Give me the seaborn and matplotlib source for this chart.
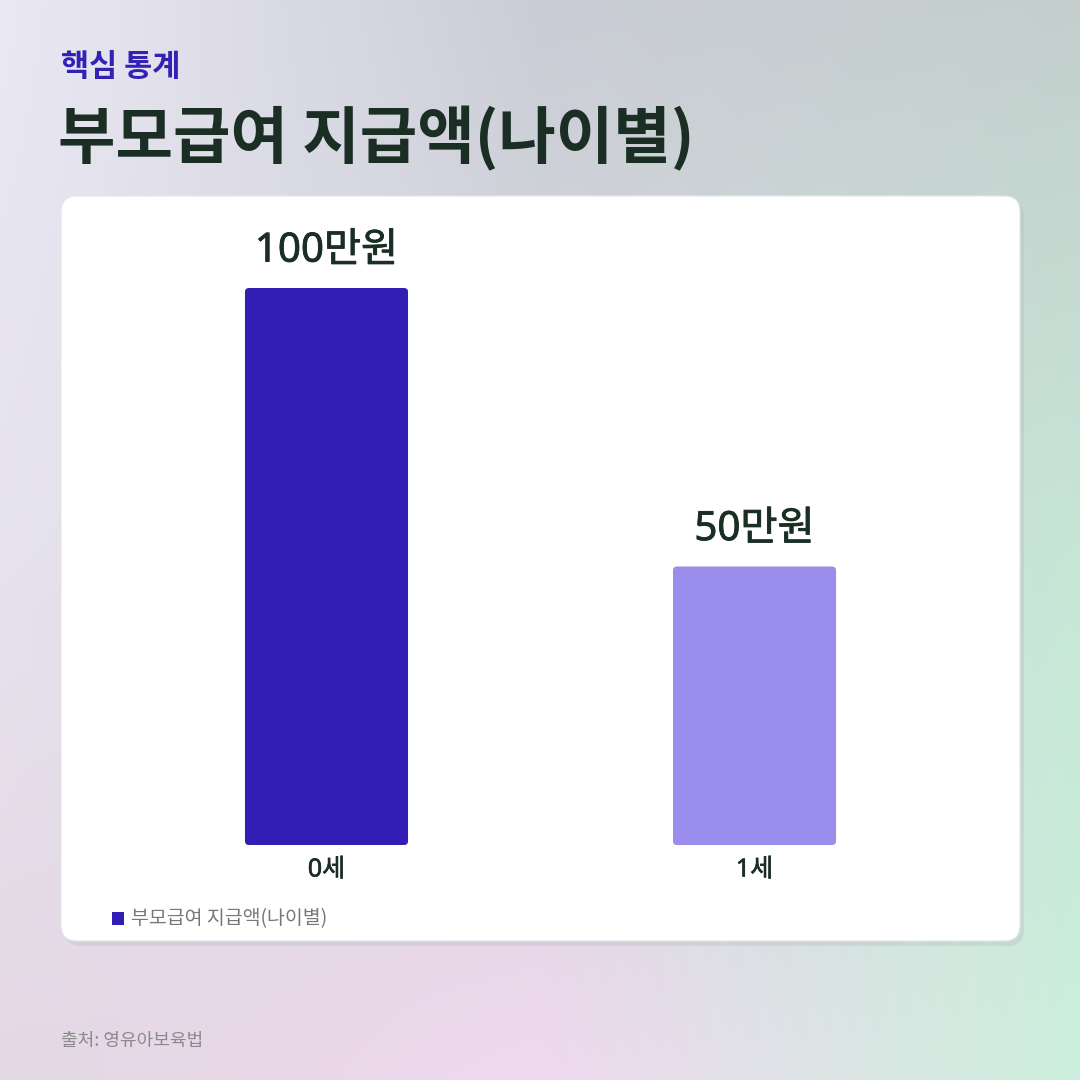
import numpy as np
import matplotlib
matplotlib.use("Agg")
import matplotlib.pyplot as plt
import matplotlib.patheffects as pe
import seaborn as sns
from matplotlib.patches import FancyBboxPatch, Rectangle

# data
ages = ["0세", "1세"]
amounts = [100, 50]
series_name = "부모급여 지급액(나이별)"
bar_colors = ["#321db5", "#9b8deb"]
kicker = "핵심 통계"
title = "부모급여 지급액(나이별)"
source = "출처: 영유아보육법"

sns.set_theme(style="white")
plt.rcParams["font.family"] = ["Noto Sans CJK KR", "DejaVu Sans"]
num_family = ["Noto Sans", "Noto Sans CJK KR"]
ink = "#1b2e24"

W = 1080
fig = plt.figure(figsize=(10.8, 10.8), dpi=100)

# background gradient (3x3 anchor colours, bilinear)
anchors = np.array([
    [[0xea, 0xe8, 0xf4], [0xcb, 0xcd, 0xd6], [0xc4, 0xcf, 0xcd]],
    [[0xe6, 0xe3, 0xee], [0xd6, 0xd8, 0xde], [0xc6, 0xe6, 0xd6]],
    [[0xe4, 0xd8, 0xe4], [0xef, 0xd8, 0xef], [0xcc, 0xef, 0xdc]],
]) / 255.0
n = 200
t = np.linspace(0, 2, n)
i0 = np.clip(np.floor(t).astype(int), 0, 1)
f = t - i0
rows = (anchors[i0] * (1 - f)[:, None, None] + anchors[i0 + 1] * f[:, None, None])
grad = rows[:, i0] * (1 - f)[None, :, None] + rows[:, i0 + 1] * f[None, :, None]

bg = fig.add_axes([0, 0, 1, 1], zorder=0)
bg.imshow(grad, extent=(0, 1, 0, 1), aspect="auto", interpolation="bilinear")
bg.set_xlim(0, 1)
bg.set_ylim(0, 1)
bg.axis("off")

# card with shadow
cx0, cx1, cy_top, cy_bot = 61, 1020, 196, 941
r = 16 / W
bg.add_patch(FancyBboxPatch((cx0 / W + 4 / W, 1 - (cy_bot + 5) / W), (cx1 - cx0) / W, (cy_bot - cy_top) / W,
                            boxstyle=f"round,pad=0,rounding_size={r}", fc="#b0b8b8", ec="none", alpha=0.3))
bg.add_patch(FancyBboxPatch((cx0 / W, 1 - cy_bot / W), (cx1 - cx0) / W, (cy_bot - cy_top) / W,
                            boxstyle=f"round,pad=0,rounding_size={r}", fc="white", ec="#e6e4ea", lw=0.8))

# header and footer text
fig.text(61 / W, 1 - 67 / W, kicker, fontsize=22, fontweight="bold", color="#3320b5", va="center")
fig.text(58 / W, 1 - 139 / W, title, fontsize=45, fontweight="bold", color=ink, va="center")
fig.text(61 / W, 1 - 1041 / W, source, fontsize=13, color="#8a8a8a", va="center")

# bar chart
ax = fig.add_axes([112.5 / W, (W - 845) / W, 856 / W, 557 / W], zorder=2)
ax.patch.set_alpha(0)
sns.barplot(x=ages, y=amounts, hue=ages, palette=bar_colors, width=0.381, saturation=1,
            legend=False, ax=ax)
ax.set_xlim(-0.5, 1.5)
ax.set_ylim(0, 100)

# round the bar corners
rx = 4 / 428
ry = 4 / 5.57
for p in list(ax.patches):
    x, y = p.get_x(), p.get_y()
    w, h = p.get_width(), p.get_height()
    fc = p.get_facecolor()
    p.set_visible(False)
    ax.add_patch(FancyBboxPatch((x, y), w, h, boxstyle=f"round,pad=0,rounding_size={rx}",
                                mutation_aspect=ry / rx, fc=fc, ec="none"))

for i, v in enumerate(amounts):
    ax.annotate(f"{v}만원", (i, v), xytext=(0, 19), textcoords="offset points",
                ha="center", va="baseline", fontsize=29, family=num_family,
                color=ink, annotation_clip=False,
                path_effects=[pe.withStroke(linewidth=0.6, foreground=ink)])

ax.set_yticks([])
ax.set_ylabel("")
ax.tick_params(axis="x", length=0, pad=9, labelsize=18, labelcolor=ink)
for lbl in ax.get_xticklabels():
    lbl.set_family(num_family)
    lbl.set_path_effects([pe.withStroke(linewidth=0.45, foreground=ink)])
sns.despine(ax=ax, left=True, bottom=True)

# legend
bg.add_patch(Rectangle((112 / W, 1 - 925 / W), 12 / W, 13 / W, fc=bar_colors[0], ec="none"))
fig.text(131 / W, 1 - 919 / W, series_name, fontsize=14, color="#777777", va="center")

fig.savefig("out.png", dpi=100)
